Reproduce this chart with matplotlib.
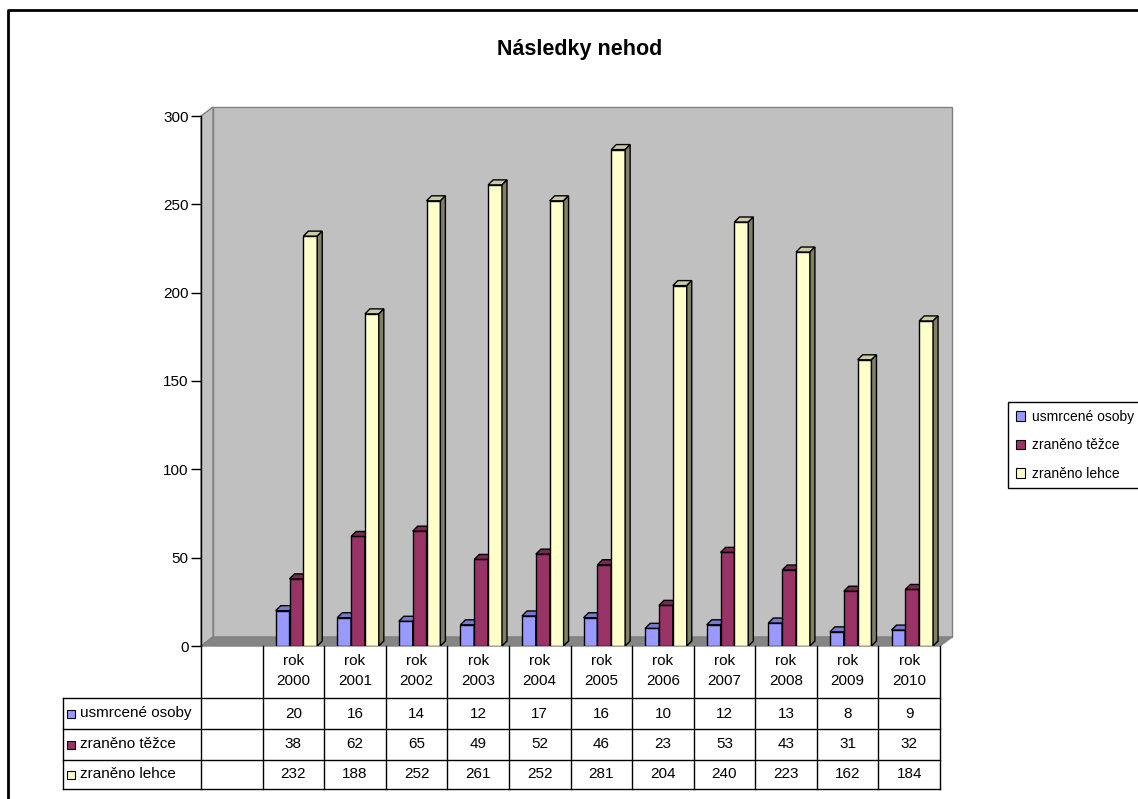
import matplotlib
matplotlib.use("Agg")
import matplotlib.pyplot as plt
from matplotlib.patches import Polygon, Rectangle, Patch
from matplotlib.lines import Line2D
import matplotlib.transforms as mtransforms

plt.rcParams['font.family'] = ['Liberation Sans', 'DejaVu Sans']

# data
years = ['2000', '2001', '2002', '2003', '2004', '2005', '2006', '2007', '2008', '2009', '2010']
series_names = ['usmrcené osoby', 'zraněno těžce', 'zraněno lehce']
usmrcene = [20, 16, 14, 12, 17, 16, 10, 12, 13, 8, 9]
tezce = [38, 62, 65, 49, 52, 46, 23, 53, 43, 31, 32]
lehce = [232, 188, 252, 261, 252, 281, 204, 240, 223, 162, 184]
series = [usmrcene, tezce, lehce]
colors = ['#9999FF', '#993366', '#FFFFCC']
yticks = [0, 50, 100, 150, 200, 250, 300]

W, H = 1138, 799
fig = plt.figure(figsize=(W / 100, H / 100), dpi=100)
fig.patch.set_facecolor('white')

# plot area in pixels (front plane)
x0, x1, ytop, ybot = 201, 940, 116, 646
ax = fig.add_axes([x0 / W, (H - ybot) / H, (x1 - x0) / W, (ybot - ytop) / H])
ax.set_xlim(-1.5, len(years) - 0.5)
ax.set_ylim(0, 300)
ax.patch.set_visible(False)
for s in ['top', 'right', 'bottom']:
    ax.spines[s].set_visible(False)
ax.spines['left'].set_color('black')
ax.spines['left'].set_linewidth(1)
ax.spines['left'].set_zorder(5)
ax.set_xticks([])
ax.set_yticks(yticks)
ax.tick_params(axis='y', direction='out', length=7, width=1, pad=2, labelsize=11)

# px -> data units
sx = (x1 - x0) / (ax.get_xlim()[1] - ax.get_xlim()[0])
sy = (ybot - ytop) / 300.0
wdx, wdy = 12 / sx, 9 / sy   # wall depth
bdx, bdy = 5 / sx, 5 / sy    # bar depth
xa, xb = ax.get_xlim()

# walls and floor
wall = '#C0C0C0'
edge = '#808080'
ax.add_patch(Rectangle((xa + wdx, wdy), xb - xa, 300, facecolor=wall, edgecolor=edge, lw=1,
                       zorder=0, clip_on=False))
ax.add_patch(Polygon([(xa, 0), (xa + wdx, wdy), (xa + wdx, 300 + wdy), (xa, 300)],
                     closed=True, facecolor=wall, edgecolor=edge, lw=1, zorder=0.5, clip_on=False))
ax.add_patch(Polygon([(xa, 0), (xb, 0), (xb + wdx, wdy), (xa + wdx, wdy)],
                     closed=True, facecolor='#858585', edgecolor=edge, lw=1, zorder=0.6, clip_on=False))


def shade(c, f):
    r, g, b = matplotlib.colors.to_rgb(c)
    return (r * f, g * f, b * f)


bw = 0.225
z = 1
for i in range(len(years)):
    for j, vals in enumerate(series):
        left = i + (j - 1) * bw + 0.05 - bw / 2
        v = vals[i]
        c = colors[j]
        # front, top and side faces
        ax.add_patch(Rectangle((left, 0), bw, v, facecolor=c, edgecolor='black', lw=1, zorder=z))
        ax.add_patch(Polygon([(left, v), (left + bdx, v + bdy), (left + bw + bdx, v + bdy), (left + bw, v)],
                             closed=True, facecolor=shade(c, 0.8), edgecolor='black', lw=1, zorder=z))
        ax.add_patch(Polygon([(left + bw, 0), (left + bw + bdx, bdy), (left + bw + bdx, v + bdy), (left + bw, v)],
                             closed=True, facecolor=shade(c, 0.5), edgecolor='black', lw=1, zorder=z))
        z += 0.01

# data table below the chart
tr = mtransforms.blended_transform_factory(ax.transData, ax.transAxes)
ah = ybot - ytop


def ay(py):
    return (ybot - py) / ah


xl = xa - 138 / sx
row_lines = [698, 729, 760, 789]
for py in row_lines:
    ax.add_line(Line2D([xl, xb], [ay(py), ay(py)], transform=tr, color='black', lw=1, clip_on=False))
ax.add_line(Line2D([xl, xl], [ay(698), ay(789)], transform=tr, color='black', lw=1, clip_on=False))
ax.add_line(Line2D([xa, xa], [ay(646), ay(789)], transform=tr, color='black', lw=1, clip_on=False))
for k in range(len(years) + 1):
    xv = k - 0.5
    ax.add_line(Line2D([xv, xv], [ay(646), ay(789)], transform=tr, color='black', lw=1, clip_on=False))

for i, yr in enumerate(years):
    ax.text(i, ay(671), 'rok\n' + yr, transform=tr, ha='center', va='center', fontsize=11, linespacing=1.55)

row_centers = [713.5, 744.5, 774.5]
for j, name in enumerate(series_names):
    yc = ay(row_centers[j])
    ax.add_patch(Rectangle((xl + 4 / sx, yc - 4 / ah), 8 / sx, 8 / ah, transform=tr,
                           facecolor=colors[j], edgecolor='black', lw=0.8, clip_on=False))
    ax.text(xl + 17 / sx, yc, name, transform=tr, ha='left', va='center', fontsize=11)
    for i in range(len(years)):
        ax.text(i, yc, str(series[j][i]), transform=tr, ha='center', va='center', fontsize=11)

# title
fig.text(580 / W, 1 - 50 / H, 'Následky nehod', ha='center', va='center', fontsize=15.5, fontweight='bold')

# legend
handles = [Patch(facecolor=c, edgecolor='black', lw=0.8) for c in colors]
leg = fig.legend(handles, series_names, loc='upper left', bbox_to_anchor=(1008 / W, 1 - 402 / H),
                 fontsize=10, handlelength=0.7, handleheight=0.7, handletextpad=0.45,
                 labelspacing=1.05, borderpad=0.55, borderaxespad=0, fancybox=False, framealpha=1)
leg.get_frame().set_edgecolor('black')
leg.get_frame().set_linewidth(1)

# outer chart border (top and left visible)
fig.add_artist(Line2D([8 / W, 8 / W, 1.0], [0, 1 - 10 / H, 1 - 10 / H], transform=fig.transFigure,
                      color='black', lw=2))

fig.savefig('out.png', dpi=100)
